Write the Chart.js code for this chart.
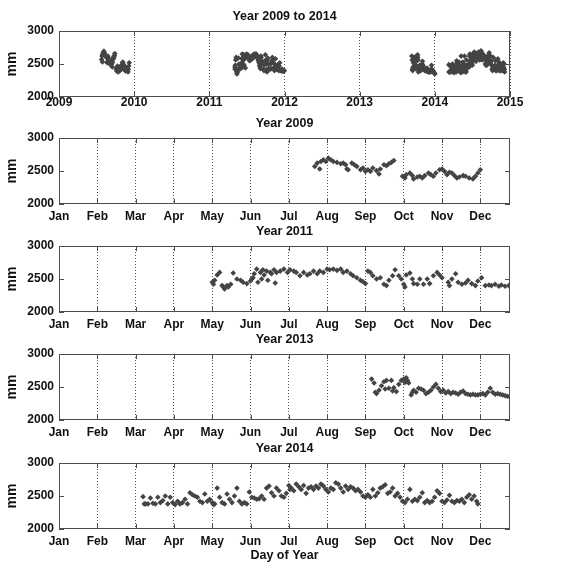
<!DOCTYPE html>
<html lang="en">
<head>
<meta charset="UTF-8">
<title>Year 2009 to 2014</title>
<script src="https://cdn.jsdelivr.net/npm/chart.js"></script>
<style>
  body { margin: 0; background: #fff; }
  .panel { position: absolute; left: 0; }
</style>
</head>
<body>
<div class="panel" style="top:1px"><canvas id="p0" width="576" height="114"></canvas></div>
<div class="panel" style="top:108px"><canvas id="p1" width="576" height="118"></canvas></div>
<div class="panel" style="top:216px"><canvas id="p2" width="576" height="118"></canvas></div>
<div class="panel" style="top:324px"><canvas id="p3" width="576" height="118"></canvas></div>
<div class="panel" style="top:433px"><canvas id="p4" width="576" height="134"></canvas></div>

<script>
// [day of year, mm]
const obs2009 = [
  [207,2570],[209,2620],[211,2530],[212,2645],[214,2670],[216,2645],[218,2695],[220,2670],[222,2645],[225,2630],
  [228,2610],[230,2620],[232,2595],[233,2530],[234,2520],[237,2620],[239,2595],[241,2570],[244,2520],[246,2545],
  [248,2495],[250,2520],[252,2495],[254,2545],[257,2505],[259,2455],[260,2530],[263,2595],[265,2580],[267,2610],
  [269,2630],[271,2660],
  [278,2420],[280,2395],[281,2445],[284,2470],[286,2430],[287,2380],[290,2410],[292,2420],[294,2395],[296,2430],
  [299,2470],[301,2445],[303,2420],[305,2470],[308,2520],[310,2530],[312,2495],[314,2445],[316,2480],[318,2470],
  [320,2430],[322,2395],[324,2410],[327,2430],[329,2420],[332,2395],[335,2380],[337,2420],[339,2470],[341,2520]
];
const obs2011 = [
  [124,2450],[125,2420],[126,2480],[128,2560],[130,2600],[132,2400],[133,2380],[134,2350],[136,2400],[137,2380],
  [139,2420],[141,2590],[144,2500],[147,2480],[149,2450],[152,2430],[155,2470],[156,2500],[157,2520],[158,2580],
  [160,2650],[161,2450],[163,2600],[164,2500],[165,2640],[166,2560],[168,2620],[169,2480],[171,2600],[172,2580],
  [174,2640],[175,2440],[176,2600],[179,2620],[182,2650],[185,2600],[187,2640],[190,2620],[192,2600],[195,2550],
  [198,2600],[201,2560],[203,2580],[206,2620],[209,2580],[211,2620],[214,2600],[217,2650],[219,2640],[222,2650],
  [225,2630],[228,2650],[230,2600],[233,2620],[236,2580],[238,2550],[241,2520],[244,2480],[246,2460],[248,2430],
  [250,2620],[252,2600],[254,2550],[257,2500],[260,2520],[263,2420],[265,2400],[267,2480],[270,2550],[272,2640],
  [275,2550],[277,2500],[279,2420],[280,2380],[281,2560],[284,2590],[286,2500],[287,2430],[290,2420],[292,2500],
  [295,2420],[298,2500],[300,2430],[303,2550],[306,2600],[308,2560],[310,2520],
  [315,2450],[316,2400],[318,2500],[321,2580],[323,2450],[326,2420],[329,2440],[331,2480],[334,2430],[337,2400],
  [339,2470],[342,2520],[345,2400],[348,2410],[350,2400],[353,2420],[356,2390],[358,2410],[361,2390],[364,2400]
];
const obs2013 = [
  [253,2620],[255,2560],[256,2420],[257,2400],[259,2450],[261,2520],[263,2580],[264,2470],[265,2600],[267,2480],
  [269,2600],[270,2440],[271,2490],[273,2430],[275,2540],[277,2600],[279,2620],[280,2570],[281,2640],[282,2600],
  [283,2560],[285,2380],[286,2420],[287,2450],[289,2420],[291,2480],[293,2470],[295,2450],[297,2400],[299,2420],
  [301,2450],[303,2500],[305,2540],[307,2480],[309,2430],[311,2450],[313,2410],[315,2430],[317,2400],[319,2420],
  [321,2410],[323,2390],[325,2420],[327,2440],[329,2400],[331,2390],[333,2380],[335,2390],[337,2380],[339,2380],
  [341,2390],[343,2400],[345,2380],[347,2420],[349,2480],[351,2420],[353,2390],[355,2400],[357,2390],[359,2380],
  [361,2370],[363,2360],[365,2350]
];
const obs2014 = [
  [68,2490],[69,2380],[70,2380],[72,2380],[74,2470],[76,2390],[78,2380],[80,2480],[82,2400],[84,2430],
  [86,2500],[88,2380],[90,2480],[92,2400],[94,2370],[96,2420],[98,2380],[100,2400],[102,2450],[104,2380],
  [106,2550],[108,2520],[110,2500],[112,2480],[114,2420],[116,2400],[118,2530],[120,2420],[122,2450],[124,2400],
  [125,2370],[126,2380],[128,2620],[130,2480],[132,2400],[134,2380],[136,2530],[138,2450],[140,2400],[142,2500],
  [144,2620],[146,2420],[148,2380],[150,2400],[152,2380],[154,2560],[156,2480],[158,2470],[160,2450],[162,2460],
  [164,2500],[166,2450],[168,2620],[170,2650],[172,2550],[174,2500],[176,2620],[178,2580],[180,2500],[182,2480],
  [184,2540],[186,2660],[187,2600],[188,2620],[190,2580],[192,2680],[194,2640],[196,2600],[198,2660],[200,2540],
  [202,2620],[204,2640],[206,2600],[208,2650],[210,2620],[212,2680],[214,2650],[216,2600],[218,2560],[220,2620],
  [222,2600],[224,2700],[226,2680],[228,2620],[230,2560],[232,2650],[234,2600],[236,2640],[238,2620],[240,2580],
  [242,2600],[244,2560],[246,2500],[248,2480],[250,2520],[252,2480],[254,2600],[256,2500],[258,2550],[260,2620],
  [262,2640],[264,2670],[266,2540],[268,2560],[270,2620],[272,2500],[274,2540],[276,2480],[278,2420],[280,2400],
  [282,2450],[284,2600],[286,2420],[288,2450],[290,2430],[292,2480],[294,2550],[296,2400],[298,2430],[300,2400],
  [302,2420],[304,2480],[306,2580],[308,2540],[310,2420],[312,2400],[314,2440],[316,2510],[318,2420],[320,2400],
  [322,2430],[324,2420],[326,2450],[328,2400],[330,2480],[332,2520],[334,2450],[336,2500],[338,2420],[339,2380]
];

const monthDays = [0, 31, 62, 93, 124, 155, 186, 217, 248, 279, 310, 341];
const monthNames = ['Jan','Feb','Mar','Apr','May','Jun','Jul','Aug','Sep','Oct','Nov','Dec'];
const yearTicks = [2009, 2010, 2011, 2012, 2013, 2014, 2015];
const yTicks = [2000, 2500, 3000];

// whole record on a decimal-year axis
const allYears = [[2009, obs2009], [2011, obs2011], [2013, obs2013], [2014, obs2014]]
  .flatMap(([yr, obs]) => obs.map(([d, v]) => ({ x: yr + d / 365, y: v })));
const toXY = obs => obs.map(([d, v]) => ({ x: d, y: v }));

const FONT = '"Liberation Sans", Arial, sans-serif';
const INK = '#111';

// box round the plot, inward tick marks and the panel title
const frame = {
  id: 'frame',
  afterDatasetsDraw(chart, args, opts) {
    const { ctx, chartArea: a, scales: { x, y } } = chart;
    ctx.save();
    ctx.strokeStyle = '#4d4d4d';
    ctx.lineWidth = 1;
    ctx.beginPath();
    x.ticks.forEach(t => {
      const px = Math.round(x.getPixelForValue(t.value)) + 0.5;
      ctx.moveTo(px, a.bottom); ctx.lineTo(px, a.bottom - 5);
      ctx.moveTo(px, a.top); ctx.lineTo(px, a.top + 5);
    });
    y.ticks.forEach(t => {
      const py = Math.round(y.getPixelForValue(t.value)) + 0.5;
      ctx.moveTo(a.left, py); ctx.lineTo(a.left + 5, py);
      ctx.moveTo(a.right, py); ctx.lineTo(a.right - 5, py);
    });
    ctx.stroke();
    ctx.strokeRect(a.left + 0.5, a.top + 0.5, a.width - 1, a.height - 1);
    ctx.font = 'bold 12.5px ' + FONT;
    ctx.fillStyle = INK;
    ctx.textAlign = 'center';
    ctx.textBaseline = 'middle';
    ctx.fillText(opts.text, (a.left + a.right) / 2, a.top - 14);
    ctx.restore();
  }
};

function panel(id, title, points, xMin, xMax, xTicks, xLabels, xTitle, labelGap, below) {
  new Chart(document.getElementById(id), {
    type: 'scatter',
    data: {
      datasets: [{
        data: points,
        pointStyle: 'rectRot',
        pointRadius: 2.8,
        backgroundColor: '#444',
        borderColor: '#444',
        borderWidth: 0
      }]
    },
    options: {
      responsive: false,
      animation: false,
      layout: { padding: { top: 30, right: 66, left: 0, bottom: 0 } },
      plugins: {
        legend: { display: false },
        tooltip: { enabled: false },
        frame: { text: title }
      },
      scales: {
        x: {
          type: 'linear',
          min: xMin,
          max: xMax,
          afterFit: s => { s.height = below; },
          afterBuildTicks: s => { s.ticks = xTicks.map(v => ({ value: v })); },
          ticks: {
            callback: (v, i) => xLabels[i],
            font: { family: FONT, size: 12, weight: 'bold' },
            color: INK,
            padding: labelGap,
            maxRotation: 0,
            autoSkip: false
          },
          grid: { color: '#555', drawTicks: false },
          border: { display: false, dash: [1, 2] },
          title: {
            display: !!xTitle,
            text: xTitle || '',
            color: INK,
            font: { family: FONT, size: 12.5, weight: 'bold' },
            padding: { top: 2, bottom: 4 }
          }
        },
        y: {
          min: 2000,
          max: 3000,
          afterFit: s => { s.width = 59; },
          afterBuildTicks: s => { s.ticks = yTicks.map(v => ({ value: v })); },
          ticks: {
            callback: v => String(v),
            font: { family: FONT, size: 12, weight: 'bold' },
            color: INK,
            padding: 5
          },
          grid: { display: false, drawTicks: false },
          border: { display: false },
          title: {
            display: true,
            text: 'mm',
            color: INK,
            font: { family: FONT, size: 14, weight: 'bold' },
            padding: { top: 4, bottom: 0 }
          }
        }
      }
    },
    plugins: [frame]
  });
}

panel('p0', 'Year 2009 to 2014', allYears, 2009, 2015, yearTicks, yearTicks.map(String), null, -2, 18);
panel('p1', 'Year 2009', toXY(obs2009), 0, 365, monthDays, monthNames, null, 5, 22);
panel('p2', 'Year 2011', toXY(obs2011), 0, 365, monthDays, monthNames, null, 5, 22);
panel('p3', 'Year 2013', toXY(obs2013), 0, 365, monthDays, monthNames, null, 5, 22);
panel('p4', 'Year 2014', toXY(obs2014), 0, 365, monthDays, monthNames, 'Day of Year', 5, 38);
</script>
</body>
</html>
